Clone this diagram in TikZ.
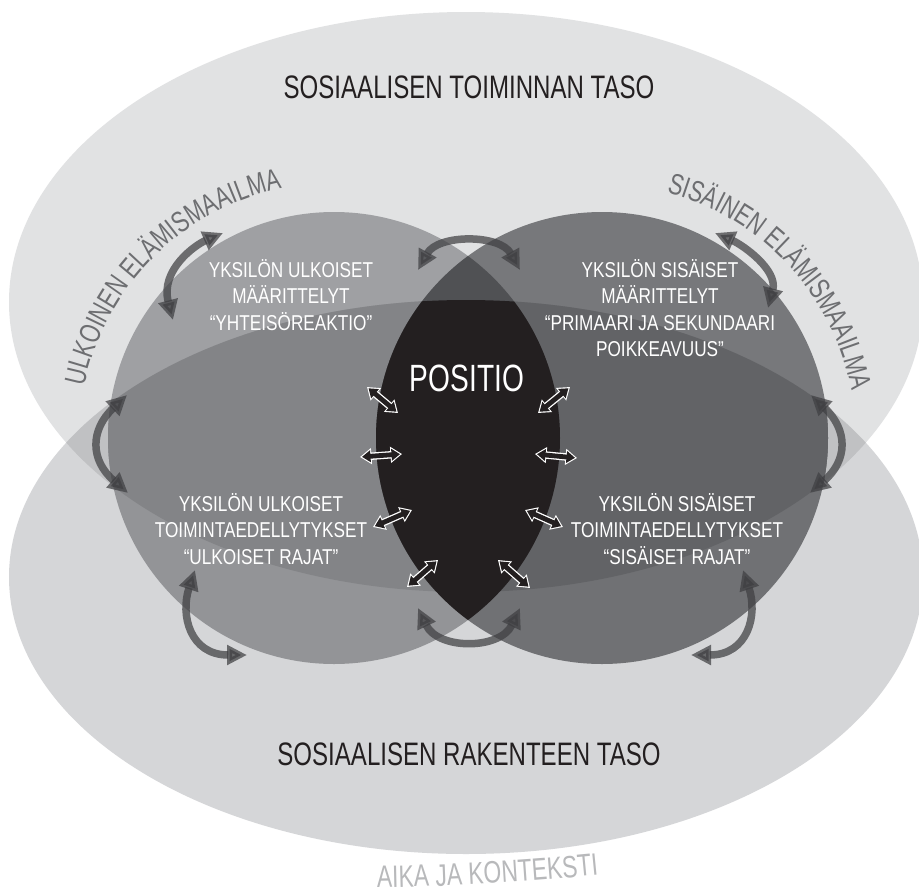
\documentclass[tikz,border=0pt]{standalone}
\usepackage{fontspec}
\setmainfont{Liberation Sans}
\newfontfamily\cond[FakeStretch=0.8]{Liberation Sans}
\newfontfamily\condn[FakeStretch=0.74]{Liberation Sans}
\usetikzlibrary{arrows.meta,decorations.text}
\definecolor{cTop}{HTML}{E1E2E3}
\definecolor{cBot}{HTML}{D5D6D8}
\definecolor{cBoth}{HTML}{C0C1C3}
\definecolor{lTop}{HTML}{9FA0A3}
\definecolor{lBoth}{HTML}{838487}
\definecolor{lBot}{HTML}{939497}
\definecolor{rTop}{HTML}{77787B}
\definecolor{rBoth}{HTML}{626366}
\definecolor{rBot}{HTML}{707174}
\definecolor{lensTop}{HTML}{505154}
\definecolor{cDark}{HTML}{231F20}
\definecolor{cArc}{HTML}{6D6E71}
\definecolor{cTime}{HTML}{B8B9BB}
\definecolor{cArrow}{HTML}{3F3F42}
\begin{document}
\begin{tikzpicture}[x=1pt,y=1pt,
  title/.style={font=\condn\fontsize{32.5pt}{36pt}\selectfont, text=cDark, inner sep=0pt},
  wtext/.style={font=\cond\fontsize{21.5pt}{26.5pt}\selectfont, text=white, align=center, inner sep=0pt},
  postext/.style={font=\condn\fontsize{38pt}{42pt}\selectfont, text=white, inner sep=0pt},
  sawhite/.style={draw=white, line width=7.4pt, {Triangle[length=11.5pt,width=15.5pt]}-{Triangle[length=11.5pt,width=15.5pt]}},
  sablack/.style={draw=cDark, line width=4.8pt, shorten <=2pt, shorten >=2pt, {Triangle[length=8.5pt,width=11.5pt]}-{Triangle[length=8.5pt,width=11.5pt]}},
  garrow/.style={draw=cArrow, line width=7.5pt, opacity=0.72, {Triangle[length=20pt,width=19pt]}-{Triangle[length=20pt,width=19pt]}}
]
\useasboundingbox (0,0) rectangle (919,-895);
\fill[white] (0,0) rectangle (919,-895);

\def\topell{(466,-302) ellipse [x radius=457pt, y radius=290pt]}
\def\botell{(466,-577) ellipse [x radius=457pt, y radius=277pt]}
\def\circL{(334,-438) circle [radius=226pt]}
\def\circR{(602,-438) circle [radius=226pt]}

% levels
\fill[cTop] \topell;
\fill[cBot] \botell;
\begin{scope}\clip \topell; \fill[cBoth] \botell; \end{scope}
% left circle
\begin{scope}\clip \circL;
  \fill[lTop] \topell; \fill[lBot] \botell;
  \begin{scope}\clip \topell; \fill[lBoth] \botell; \end{scope}
\end{scope}
% right circle
\begin{scope}\clip \circR;
  \fill[rTop] \topell; \fill[rBot] \botell;
  \begin{scope}\clip \topell; \fill[rBoth] \botell; \end{scope}
\end{scope}
% lens
\begin{scope}\clip \circL; \clip \circR;
  \fill[lensTop] \topell; \fill[cDark] \botell;
\end{scope}

% centres for arc texts
\coordinate (cL) at (334,-438);
\coordinate (cR) at (602,-438);
\coordinate (cA) at (340,1712);

\path[decorate, decoration={text along path, text align=center,
  text={|\condn\fontsize{29.5pt}{32pt}\selectfont\color{cArc}|ULKOINEN ELÄMISMAAILMA}}]
  ([shift={(180:255pt)}]cL) arc[start angle=180, end angle=90, radius=255pt];
\path[decorate, decoration={text along path, text align=center,
  text={|\condn\fontsize{29.5pt}{32pt}\selectfont\color{cArc}|SISÄINEN ELÄMISMAAILMA}}]
  ([shift={(88:254pt)}]cR) arc[start angle=88, end angle=-2, radius=254pt];
\path[decorate, decoration={text along path, text align=center,
  text={|\condn\fontsize{31pt}{34pt}\selectfont\color{cTime}|AIKA JA KONTEKSTI}}]
  ([shift={(-96.74:2600pt)}]cA) arc[start angle=-96.74, end angle=-76.74, radius=2600pt];

% texts
\node[title] (t1) at (469,-87) {SOSIAALISEN TOIMINNAN TASO};
\node[title] (t2) at (469,-754) {SOSIAALISEN RAKENTEEN TASO};
\node[postext] (pos) at (467,-378) {POSITIO};
\node[wtext] (lt) at (291,-295) {YKSILÖN ULKOISET\\MÄÄRITTELYT\\“YHTEISÖREAKTIO”};
\node[wtext] (rt) at (660,-308) {YKSILÖN SISÄISET\\MÄÄRITTELYT\\“PRIMAARI JA SEKUNDAARI\\POIKKEAVUUS”};
\node[wtext] (lb) at (261,-529) {YKSILÖN ULKOISET\\TOIMINTAEDELLYTYKSET\\“ULKOISET RAJAT”};
\node[wtext] (rb) at (677,-529) {YKSILÖN SISÄISET\\TOIMINTAEDELLYTYKSET\\“SISÄISET RAJAT”};

% gray curved arrows
\coordinate (ga1) at (173,-320); \coordinate (ga2) at (223,-233);
\coordinate (gb1) at (418,-270); \coordinate (gb2) at (520,-270);
\coordinate (gc1) at (768,-308); \coordinate (gc2) at (715,-233);
\coordinate (gd1) at (127,-395); \coordinate (gd2) at (128,-493);
\coordinate (ge1) at (811,-395); \coordinate (ge2) at (810,-493);
\coordinate (gf1) at (195,-570); \coordinate (gf2) at (247,-655);
\coordinate (gg1) at (418,-608); \coordinate (gg2) at (520,-608);
\coordinate (gh1) at (743,-570); \coordinate (gh2) at (691,-655);
\draw[garrow] (ga1) .. controls (160,-270) and (195,-245) .. (ga2);
\draw[garrow] (gb1) .. controls (438,-234) and (500,-234) .. (gb2);
\draw[garrow] (gc1) .. controls (778,-270) and (743,-245) .. (gc2);
\draw[garrow] (gd1) .. controls (90,-430) and (90,-460) .. (gd2);
\draw[garrow] (ge1) .. controls (848,-430) and (848,-460) .. (ge2);
\draw[garrow] (gf1) .. controls (180,-615) and (190,-655) .. (gf2);
\draw[garrow] (gg1) .. controls (438,-650) and (500,-650) .. (gg2);
\draw[garrow] (gh1) .. controls (758,-615) and (748,-655) .. (gh2);

% small white-outlined arrows around the position
\coordinate (s1a) at (367,-387); \coordinate (s1b) at (398,-413);
\coordinate (s2a) at (360,-457); \coordinate (s2b) at (402,-454);
\coordinate (s3a) at (373,-527); \coordinate (s3b) at (412,-510);
\coordinate (s4a) at (407,-587); \coordinate (s4b) at (438,-560);
\coordinate (s5a) at (570,-387); \coordinate (s5b) at (538,-413);
\coordinate (s6a) at (535,-454); \coordinate (s6b) at (577,-458);
\coordinate (s7a) at (525,-510); \coordinate (s7b) at (563,-527);
\coordinate (s8a) at (498,-560); \coordinate (s8b) at (530,-588);
\foreach \p/\q in {s1a/s1b,s2a/s2b,s3a/s3b,s4a/s4b,s5a/s5b,s6a/s6b,s7a/s7b,s8a/s8b}{
  \draw[sawhite] (\p) -- (\q);
  \draw[sablack] (\p) -- (\q);
}
\end{tikzpicture}
\end{document}
